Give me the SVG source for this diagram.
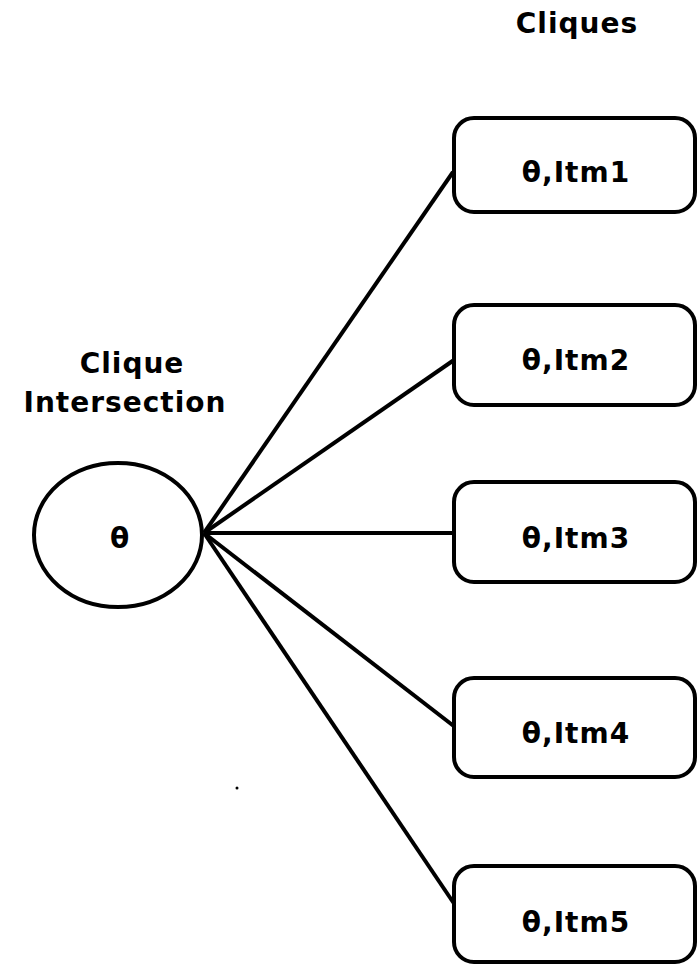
<svg xmlns="http://www.w3.org/2000/svg" width="697" height="970" viewBox="0 0 697 970">
<style>
.box{fill:#fff;stroke:#000;stroke-width:4}
.t{font-family:"DejaVu Sans","Liberation Sans",sans-serif;font-weight:bold;font-size:28px;letter-spacing:1px;text-anchor:middle;fill:#000}
.edge{stroke:#000;stroke-width:4;fill:none}
</style>
<rect width="697" height="970" fill="#fff"/>
<text class="t" x="577" y="33">Cliques</text>
<text class="t" x="132" y="373">Clique</text>
<text class="t" x="125" y="412">Intersection</text>
<g id="connectors">
<line class="edge" x1="204" y1="533" x2="453" y2="172"/>
<line class="edge" x1="204" y1="533" x2="454" y2="360"/>
<line class="edge" x1="204" y1="533" x2="455" y2="533"/>
<line class="edge" x1="204" y1="533" x2="455" y2="727"/>
<line class="edge" x1="204" y1="533" x2="455" y2="905"/>
</g>
<g id="n0"><ellipse class="box" cx="118" cy="535" rx="84" ry="72"/><text class="t" x="120" y="548">θ</text></g>
<g id="n1"><rect class="box" x="454" y="118" width="241" height="94" rx="20"/><text class="t" x="576" y="182">θ,Itm1</text></g>
<g id="n2"><rect class="box" x="454" y="305" width="241" height="100" rx="20"/><text class="t" x="576" y="370">θ,Itm2</text></g>
<g id="n3"><rect class="box" x="454" y="482" width="241" height="100" rx="20"/><text class="t" x="576" y="548">θ,Itm3</text></g>
<g id="n4"><rect class="box" x="454" y="678" width="241" height="99" rx="20"/><text class="t" x="576" y="743">θ,Itm4</text></g>
<g id="n5"><rect class="box" x="454" y="866" width="241" height="96" rx="20"/><text class="t" x="576" y="932">θ,Itm5</text></g>
<circle cx="237" cy="788" r="1.5" fill="#000"/>
</svg>
